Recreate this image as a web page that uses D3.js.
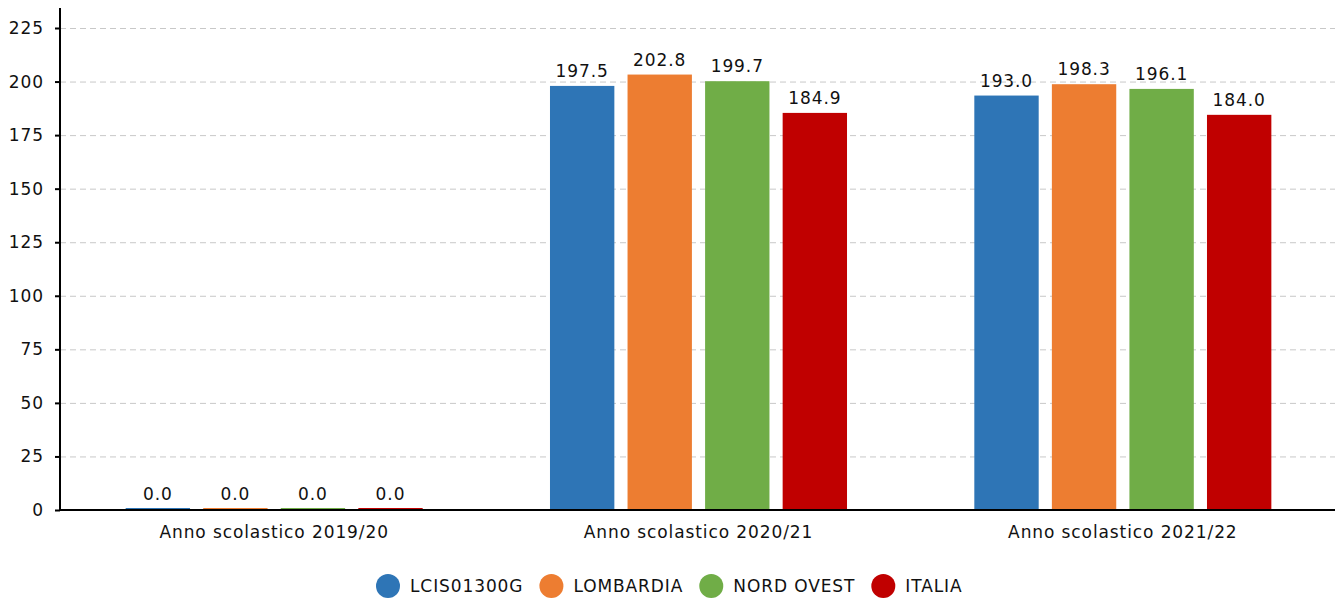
<!DOCTYPE html>
<html>
<head>
<meta charset="utf-8">
<script src="https://cdn.jsdelivr.net/npm/d3@7"></script>
<style>
  html, body { margin: 0; padding: 0; background: #fff; }
  svg { display: block; font-family: "DejaVu Sans", Verdana, sans-serif; }
  svg text { letter-spacing: 0.9px; }
</style>
</head>
<body>
<svg id="chart" width="1335" height="601"></svg>
<script>
// Categories (school years) and series
const categories = ["Anno scolastico 2019/20", "Anno scolastico 2020/21", "Anno scolastico 2021/22"];
const seriesNames = ["LCIS01300G", "LOMBARDIA", "NORD OVEST", "ITALIA"];
const seriesColors = ["#2e75b6", "#ed7d31", "#70ad47", "#c00000"];
const valuesLCIS = [0.0, 197.5, 193.0];
const valuesLombardia = [0.0, 202.8, 198.3];
const valuesNordOvest = [0.0, 199.7, 196.1];
const valuesItalia = [0.0, 184.9, 184.0];
const yTicks = [0, 25, 50, 75, 100, 125, 150, 175, 200, 225];

const seriesValues = [valuesLCIS, valuesLombardia, valuesNordOvest, valuesItalia];

const svg = d3.select("#chart");
const margin = { left: 60, right: 2, top: 8, bottom: 91 };
const W = 1335, H = 601;
const plotBottom = H - margin.bottom;
const FS = 17;

const x0 = d3.scaleBand().domain(categories).range([margin.left + 2, W]).paddingInner(0).paddingOuter(0);
const x1 = d3.scaleBand().domain(seriesNames).range([0, x0.bandwidth() * 0.7]).paddingInner(0.17).paddingOuter(0);
const y = d3.scaleLinear().domain([0, 225]).range([plotBottom, 28]);

// Horizontal dashed grid
svg.append("g")
  .selectAll("line")
  .data(yTicks)
  .join("line")
  .attr("x1", margin.left)
  .attr("x2", W)
  .attr("y1", d => y(d) + 0.5)
  .attr("y2", d => y(d) + 0.5)
  .attr("stroke", "#c8c8c8")
  .attr("stroke-width", 1)
  .attr("stroke-dasharray", "6,4");

// X axis
const xAxis = svg.append("g")
  .attr("transform", `translate(0,${plotBottom})`)
  .call(d3.axisBottom(x0).tickSize(0).tickPadding(16));
xAxis.select(".domain").attr("stroke", "#000").attr("stroke-width", 2).attr("d", `M${margin.left},0H${W}`);
xAxis.selectAll(".tick text").attr("font-size", FS).attr("fill", "#111").attr("font-family", "DejaVu Sans, sans-serif");

// Bars (sit just above the axis line so zero values show as a thin strip)
const groups = svg.append("g")
  .selectAll("g")
  .data(categories)
  .join("g")
  .attr("transform", c => `translate(${x0(c) + x0.bandwidth() * 0.15},0)`);

const barTop = v => Math.min(y(v) - 1, plotBottom - 2);

groups.each(function (c, ci) {
  const g = d3.select(this);
  const rows = seriesNames.map((s, si) => ({ s, si, v: seriesValues[si][ci] }));
  g.selectAll("rect")
    .data(rows)
    .join("rect")
    .attr("x", d => x1(d.s))
    .attr("width", x1.bandwidth())
    .attr("y", d => barTop(d.v))
    .attr("height", d => plotBottom - 1 - barTop(d.v))
    .attr("fill", d => seriesColors[d.si]);
  g.selectAll("text")
    .data(rows)
    .join("text")
    .attr("x", d => x1(d.s) + x1.bandwidth() / 2)
    .attr("y", d => y(d.v) - 10)
    .attr("text-anchor", "middle")
    .attr("font-size", FS)
    .attr("fill", "#111")
    .text(d => d.v.toFixed(1));
});

// Y axis
const yAxis = svg.append("g")
  .attr("transform", `translate(${margin.left},0)`)
  .call(d3.axisLeft(y).tickValues(yTicks).tickSize(5).tickPadding(11));
yAxis.select(".domain").remove();
yAxis.selectAll(".tick line").attr("stroke", "#000").attr("stroke-width", 2);
yAxis.selectAll(".tick text").attr("font-size", FS).attr("fill", "#111").attr("font-family", "DejaVu Sans, sans-serif");
svg.append("line")
  .attr("x1", margin.left).attr("x2", margin.left)
  .attr("y1", margin.top).attr("y2", plotBottom + 1)
  .attr("stroke", "#000").attr("stroke-width", 2);

// Legend
const legend = svg.append("g").attr("transform", "translate(0,586)");
let lx = 376;
seriesNames.forEach((name, i) => {
  const item = legend.append("g");
  item.append("circle").attr("cx", lx + 12).attr("cy", 0).attr("r", 12).attr("fill", seriesColors[i]);
  const t = item.append("text")
    .attr("x", lx + 34)
    .attr("y", 0)
    .attr("dy", "0.35em")
    .attr("font-size", FS)
    .attr("fill", "#111")
    .text(name);
  const w = t.node().getComputedTextLength();
  lx = lx + 34 + w + 16;
});
</script>
</body>
</html>
